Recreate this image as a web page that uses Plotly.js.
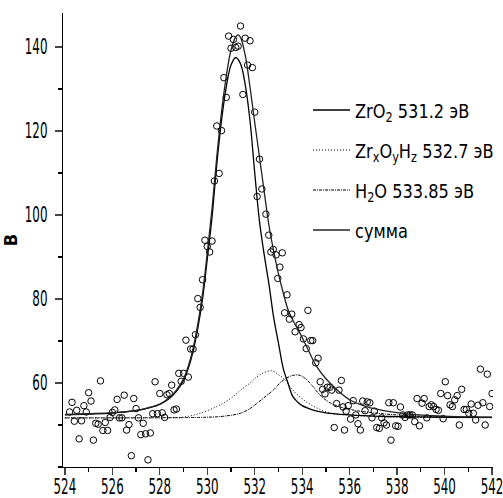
<!DOCTYPE html>
<html>
<head>
<meta charset="utf-8">
<script src="https://cdn.plot.ly/plotly-3.0.1.min.js"></script>
<style>html,body{margin:0;padding:0;background:#fff;}</style>
</head>
<body>
<div id="chart" style="width:503px;height:498px;"></div>
<script>
// Experimental points (binding energy, eV ; intensity)
const pointsX = [
  524.2,524.3,524.4,524.5,524.6,524.7,524.8,524.9,525.0,525.1,525.2,525.3,525.4,525.5,525.6,525.7,525.8,525.9,
  526.0,526.1,526.2,526.3,526.4,526.5,526.6,526.7,526.8,526.9,527.0,527.1,527.2,527.3,527.4,527.5,527.6,527.7,527.8,527.9,
  528.0,528.1,528.2,528.3,528.4,528.5,528.6,528.7,528.8,528.9,529.0,529.1,529.2,529.3,529.4,529.5,529.6,529.7,529.8,529.9,
  530.0,530.1,530.2,530.3,530.4,530.5,530.6,530.7,530.8,530.9,531.0,531.1,531.2,531.3,531.4,531.5,531.6,531.7,531.8,531.9,
  532.0,532.1,532.2,532.3,532.47,532.59,532.68,532.78,532.9,532.97,533.06,533.16,533.26,533.36,533.46,533.56,533.7,533.87,533.95,
  534.05,534.17,534.24,534.36,534.44,534.57,534.67,534.76,534.86,534.96,535.06,535.17,535.24,535.35,535.45,535.55,535.65,535.72,535.78,535.85,535.94,
  536.04,536.15,536.26,536.35,536.45,536.55,536.65,536.74,536.85,536.94,537.04,537.14,537.25,537.35,537.45,537.55,537.65,537.74,537.84,537.94,
  538.04,538.14,538.24,538.33,538.45,538.54,538.64,538.74,538.84,538.94,539.05,539.14,539.25,539.35,539.44,539.54,539.64,539.74,539.84,539.94,
  540.03,540.13,540.23,540.33,540.43,540.53,540.62,540.72,540.82,540.92,541.02,541.12,541.21,541.31,541.41,541.51,541.61,541.71,541.8,541.9,542.0
];
const pointsY = [
  53.1,55.4,50.9,53.5,46.7,51.0,54.6,53.1,57.7,55.7,46.4,50.4,50.2,60.5,48.7,50.6,48.7,51.8,
  53.0,53.6,56.1,51.7,51.7,57.1,48.8,50.1,42.7,56.3,53.9,51.7,47.7,50.4,47.9,41.7,48.1,52.7,60.3,52.7,
  57.5,52.9,51.8,57.2,57.5,59.5,53.6,53.8,62.3,60.4,62.3,70.2,61.4,68.1,68.1,71.5,80.1,78.0,84.6,94.0,
  92.5,91.2,93.8,108.1,121.2,109.9,120.1,132.7,128.0,142.6,139.7,141.8,139.9,140.2,145.0,128.7,142.1,135.7,141.5,135.1,
  124.5,104.4,113.3,106.2,100.2,95.2,91.2,91.8,90.5,84.9,87.6,91.0,76.7,81.0,75.2,76.4,72.2,73.9,73.2,
  70.5,68.2,77.3,70.1,70.1,64.8,65.9,60.3,58.5,57.4,59.0,59.0,58.3,49.4,55.1,58.3,60.6,54.3,48.8,53.3,54.6,
  51.4,55.8,52.4,50.3,48.8,55.7,53.4,55.5,55.3,51.7,53.3,49.4,49.2,51.7,50.5,50.0,55.3,46.4,55.3,49.8,
  49.7,54.3,52.4,51.8,52.4,52.4,52.4,50.8,56.3,49.8,55.2,56.3,51.7,54.4,54.8,54.4,53.7,53.5,57.5,51.5,
  60.3,57.0,54.8,54.4,56.0,57.0,50.0,58.5,53.7,53.7,52.8,55.0,52.8,51.2,54.7,63.3,55.3,50.0,62.1,54.4,57.5
];

// Fitted components
const zro2X = [524.0,525.0,526.0,527.0,527.5,528.0,528.4,528.7,529.0,529.2,529.4,529.6,529.8,530.0,530.2,530.4,530.6,530.8,531.0,531.2,531.4,531.6,531.8,532.0,532.2,532.4,532.6,532.8,533.0,533.2,533.4,533.6,533.8,534.0,534.5,535.0,535.5,536.0,537.0,538.0,540.0,542.0];
const zro2Y = [52.4,52.6,52.85,53.4,54.0,54.9,56.3,58.0,60.6,63.5,67.5,73.0,80.0,89.5,99.5,112.0,122.5,130.5,135.7,137.5,136.0,131.0,122.5,110.0,98.5,90.5,83.5,75.5,69.5,63.5,60.0,56.8,55.5,54.6,53.5,52.9,52.6,52.4,52.1,52.0,51.85,51.8];

const zrohX = [524.0,528.0,529.0,529.7,530.4,530.7,531.1,531.4,531.8,532.1,532.4,532.7,533.0,533.3,533.5,533.9,534.5,535.2,535.9,537.0,538.0,540.0,542.0];
const zrohY = [51.7,51.75,51.9,52.8,54.4,55.3,56.8,58.3,60.0,61.5,62.5,62.9,62.0,60.6,59.0,56.7,54.4,52.8,52.4,52.0,51.85,51.75,51.7];

const h2oX = [524.0,530.0,530.7,531.4,531.8,532.1,532.5,532.8,533.1,533.35,533.6,533.85,534.1,534.45,534.75,535.2,535.6,536.2,537.0,538.0,539.0,540.0,542.0];
const h2oY = [51.7,51.85,52.1,52.8,53.9,55.2,57.0,58.4,60.2,61.2,61.8,61.9,61.2,59.2,57.1,55.2,54.3,53.5,52.9,52.4,52.1,51.95,51.8];

const sumX = [524.0,525.0,526.0,527.0,527.5,528.0,528.4,528.7,529.0,529.2,529.4,529.6,529.8,530.0,530.2,530.4,530.6,530.8,531.0,531.2,531.3,531.4,531.6,531.8,532.0,532.2,532.4,532.6,532.8,533.0,533.2,533.4,533.6,533.8,534.0,534.2,534.6,535.0,535.5,536.0,536.7,537.7,538.5,539.5,540.5,542.0];
const sumY = [52.5,52.7,52.95,53.5,54.1,55.0,56.5,58.3,61.0,64.0,68.2,74.0,81.3,91.0,101.5,113.8,124.5,133.0,139.3,142.4,142.9,142.3,138.0,130.5,122.0,113.8,105.5,97.5,91.3,86.0,81.5,77.5,75.0,73.0,70.8,68.5,64.0,61.0,58.2,56.0,54.4,53.2,52.6,52.2,52.0,51.85];

const names = ['ZrO<sub>2</sub> 531.2 эВ', 'Zr<sub>x</sub>O<sub>y</sub>H<sub>z</sub> 532.7 эВ', 'H<sub>2</sub>O 533.85 эВ', 'сумма'];
const xTicks = [524,526,528,530,532,534,536,538,540,542];
const yTicks = [60,80,100,120,140];

const FONT = '"Liberation Sans Narrow", "DejaVu Sans Condensed", "Liberation Sans", sans-serif';

const traces = [
  {x: pointsX, y: pointsY, mode: 'markers', type: 'scatter', showlegend: false,
   marker: {symbol: 'circle-open', size: 6.5, color: '#000', line: {width: 1, color: '#000'}}},
  {x: zro2X, y: zro2Y, mode: 'lines', type: 'scatter', name: names[0], legendgroup: 'a',
   line: {color: '#000', width: 1.3, shape: 'spline', smoothing: 1}},
  {x: zrohX, y: zrohY, mode: 'lines', type: 'scatter', name: names[1], legendgroup: 'b',
   line: {color: '#000', width: 1, dash: '1px,2px', shape: 'spline', smoothing: 1}},
  {x: h2oX, y: h2oY, mode: 'lines', type: 'scatter', name: names[2], legendgroup: 'c',
   line: {color: '#000', width: 1, dash: '3px,1px,1px,1px', shape: 'spline', smoothing: 1}},
  {x: sumX, y: sumY, mode: 'lines', type: 'scatter', name: names[3], legendgroup: 'd',
   line: {color: '#222', width: 1.3, shape: 'spline', smoothing: 1}}
];

const layout = {
  width: 503, height: 498,
  margin: {l: 63, r: 10, t: 13, b: 31},
  paper_bgcolor: '#fff', plot_bgcolor: '#fff',
  font: {family: FONT, size: 16, color: '#000'},
  showlegend: true,
  legend: {x: 0.45, y: 0.83, xanchor: 'left', yanchor: 'top', bgcolor: 'rgba(0,0,0,0)',
           font: {family: FONT, size: 20, color: '#000'}, tracegroupgap: 11, itemwidth: 37},
  xaxis: {range: [523.92, 542.04], tickvals: xTicks, ticks: 'outside', ticklen: 7, tickwidth: 1.3,
          showline: true, linecolor: '#000', linewidth: 1.3, showgrid: false, zeroline: false,
          automargin: false, ticklabeloverflow: 'allow',
          minor: {dtick: 1, tick0: 524, ticks: 'outside', ticklen: 4, tickwidth: 1.2, tickcolor: '#000'},
          tickfont: {family: FONT, size: 21, color: '#000'}},
  yaxis: {range: [40, 148.1], tickvals: yTicks, ticks: 'outside', ticklen: 7, tickwidth: 1.3,
          showline: true, linecolor: '#000', linewidth: 1.3, showgrid: false, zeroline: false,
          automargin: false, ticklabeloverflow: 'allow',
          minor: {dtick: 10, tick0: 40, ticks: 'outside', ticklen: 4, tickwidth: 1.2, tickcolor: '#000'},
          tickfont: {family: FONT, size: 21, color: '#000'},
          title: {text: '<b>B</b>', font: {family: FONT, size: 18, color: '#000'}, standoff: 10}}
};

// narrow the text horizontally (reference uses a condensed typeface) and nudge it
function squish(sel, sx, dx, dy) {
  document.querySelectorAll('#chart ' + sel).forEach(function (t) {
    const x = parseFloat(t.getAttribute('x') || '0');
    const old = t.getAttribute('transform') || '';
    t.setAttribute('transform', old + ' translate(' + dx + ',' + dy + ') translate(' + x + ',0) scale(' + sx + ',1) translate(' + (-x) + ',0)');
  });
}

Plotly.newPlot('chart', traces, layout, {displayModeBar: false, staticPlot: true}).then(function () {
  squish('.xtick text', 0.63, 0, -6);
  squish('.ytick text', 0.63, -3, 0);
  squish('.legendtext', 0.9, 0, 0);
  // place the legend so its first sample line starts where the reference has it
  const root = document.getElementById('chart').getBoundingClientRect();
  const leg = document.querySelector('#chart .legend');
  const firstLine = document.querySelector('#chart .legend .legendlines path');
  if (leg && firstLine) {
    const r = firstLine.getBoundingClientRect();
    const dx = 313 - (r.left - root.left);
    const dy = 110 - ((r.top + r.bottom) / 2 - root.top);
    leg.setAttribute('transform', (leg.getAttribute('transform') || '') + ' translate(' + dx + ',' + dy + ')');
  }
});
</script>
</body>
</html>
